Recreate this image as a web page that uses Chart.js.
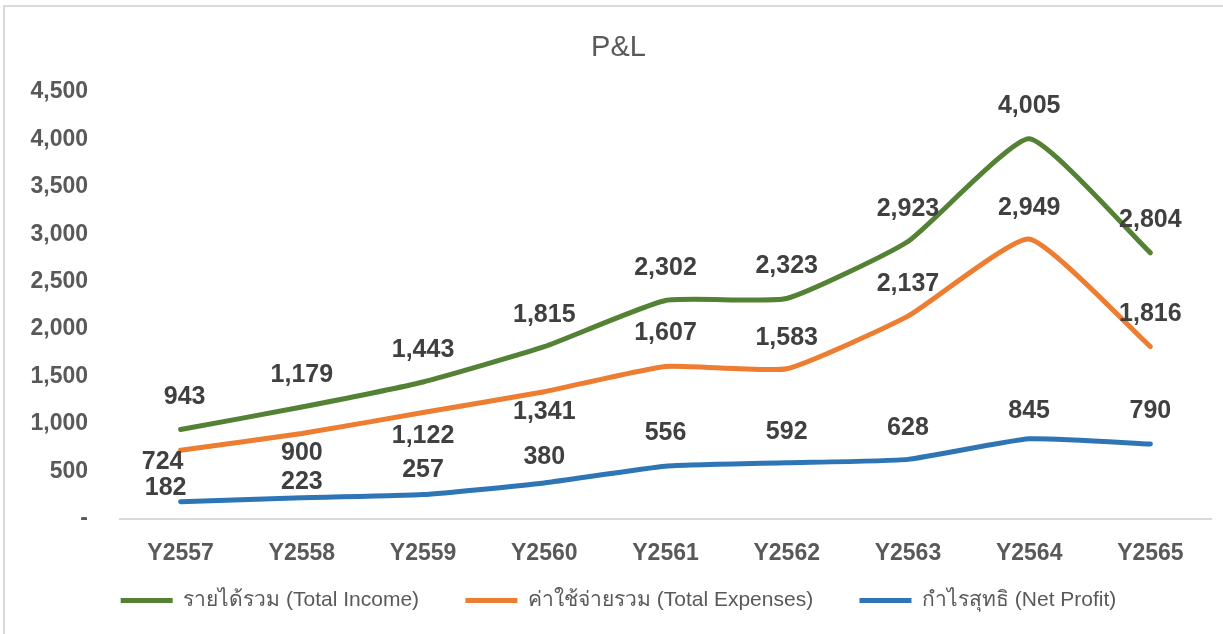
<!DOCTYPE html>
<html>
<head>
<meta charset="utf-8">
<script src="https://cdn.jsdelivr.net/npm/chart.js@4"></script>
<style>
  html, body { margin: 0; padding: 0; background: #fff; overflow: hidden; }
  #frame { position: absolute; left: 3px; top: 5px; width: 1240px; height: 650px;
           border: 2px solid #d9d9d9; box-sizing: border-box; }
  #wrap { position: absolute; left: 0; top: 0; width: 1223px; height: 634px; }
</style>
</head>
<body>
<div id="frame"></div>
<div id="wrap"><canvas id="myChart"></canvas></div>
<script>
// x-axis categories
const years = ['Y2557', 'Y2558', 'Y2559', 'Y2560', 'Y2561', 'Y2562', 'Y2563', 'Y2564', 'Y2565'];
// series values (million)
const totalIncome = [943, 1179, 1443, 1815, 2302, 2323, 2923, 4005, 2804];
const totalExpenses = [724, 900, 1122, 1341, 1607, 1583, 2137, 2949, 1816];
const netProfit = [182, 223, 257, 380, 556, 592, 628, 845, 790];
// series names
const seriesNames = ['รายได้รวม (Total Income)', 'ค่าใช้จ่ายรวม (Total Expenses)', 'กำไรสุทธิ (Net Profit)'];

// where each value label sits relative to its point (pixels)
const labelDy = [
    [-32, -32, -32, -32, -32, -32, -32, -33, -33],
    [12, 20, 24, 20, -33, -31, -32, -31, -32],
    [-14, -16, -24, -26, -33, -31, -31, -28, -33]
];
const labelDx = [
    [4, 0, 0, 0, 0, 0, 0, 0, 0],
    [-18, 0, 0, 0, 0, 0, 0, 0, 0],
    [-15, 0, 0, 0, 0, 0, 0, 0, 0]
];

const fmt = v => v.toLocaleString('en-US');

// draws the bold numbers next to each point
const valueLabels = {
    id: 'valueLabels',
    afterDatasetsDraw(chart) {
        const ctx = chart.ctx;
        ctx.save();
        ctx.font = 'bold 25px "Liberation Sans", Arial, sans-serif';
        ctx.fillStyle = '#404040';
        ctx.textAlign = 'center';
        ctx.textBaseline = 'middle';
        chart.data.datasets.forEach((ds, i) => {
            chart.getDatasetMeta(i).data.forEach((pt, j) => {
                ctx.fillText(fmt(ds.data[j]), pt.x + labelDx[i][j], pt.y + labelDy[i][j]);
            });
        });
        ctx.restore();
    }
};

const colors = ['#548235', '#ED7D31', '#2E75B6'];

const ctx = document.getElementById('myChart');
const myChart = new Chart(ctx, {
    type: 'line',
    data: {
        labels: years,
        datasets: [totalIncome, totalExpenses, netProfit].map((d, i) => ({
            label: seriesNames[i],
            data: d,
            borderColor: colors[i],
            backgroundColor: colors[i],
            borderWidth: 5,
            borderCapStyle: 'round',
            pointRadius: 0,
            pointHoverRadius: 0,
            fill: false,
            tension: 0.15
        }))
    },
    options: {
        responsive: true,
        maintainAspectRatio: false,
        animation: false,
        layout: { padding: { left: 26, right: 12, top: 0, bottom: 13 } },
        plugins: {
            tooltip: { enabled: false },
            title: {
                display: true,
                text: 'P&L',
                color: '#595959',
                font: { family: '"Liberation Sans", Arial, sans-serif', size: 29, weight: 'normal' },
                padding: { top: 31, bottom: 26 }
            },
            legend: {
                position: 'bottom',
                labels: {
                    color: '#595959',
                    font: { family: '"Liberation Sans", sans-serif', size: 21 },
                    boxWidth: 52,
                    boxHeight: 5,
                    padding: 23,
                    generateLabels(chart) {
                        const n = chart.data.datasets.length;
                        return chart.data.datasets.map((ds, i) => ({
                            // trailing spaces widen the gap between items
                            text: i < n - 1 ? ds.label + '    ' : ds.label,
                            fillStyle: ds.borderColor,
                            strokeStyle: ds.borderColor,
                            lineWidth: 0,
                            datasetIndex: i,
                            fontColor: '#595959'
                        }));
                    }
                }
            }
        },
        scales: {
            x: {
                offset: true,
                grid: { display: false },
                border: { display: true, color: '#d9d9d9', width: 2 },
                ticks: {
                    color: '#595959',
                    padding: 13,
                    font: { family: '"Liberation Sans", Arial, sans-serif', size: 23, weight: 'bold' }
                },
                afterFit(scale) { scale.height = 48; }
            },
            y: {
                min: 0,
                max: 4500,
                grid: { display: false },
                border: { display: false },
                ticks: {
                    stepSize: 500,
                    color: '#595959',
                    padding: 24,
                    font: { family: '"Liberation Sans", Arial, sans-serif', size: 23, weight: 'bold' },
                    callback: v => v === 0 ? '-' : fmt(v)
                },
                afterFit(scale) { scale.width = 94; }
            }
        }
    },
    plugins: [valueLabels]
});
</script>
</body>
</html>
